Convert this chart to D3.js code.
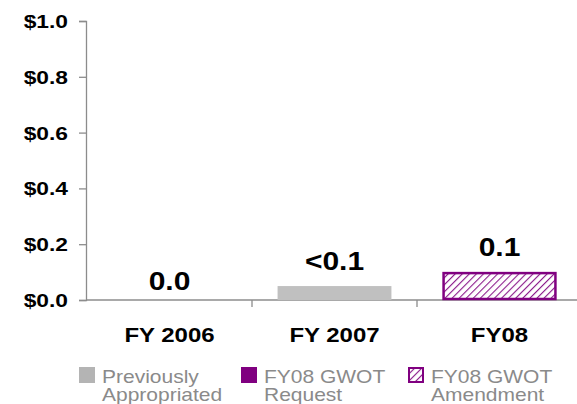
<!doctype html>
<html>
<head>
<meta charset="UTF-8">
<script src="https://d3js.org/d3.v7.min.js"></script>
<style>
  body { margin: 0; background: #fff; }
  text { font-family: Arial, "Liberation Sans", sans-serif; }
</style>
</head>
<body>
<svg id="chart"></svg>
<script>
// data
const categories = ["FY 2006", "FY 2007", "FY08"];
const previouslyAppropriated = [0, 0.05, 0];
const gwotRequest = [0, 0, 0];
const gwotAmendment = [0, 0, 0.1];
const valueLabels = ["0.0", "<0.1", "0.1"];
const yTicks = [0, 0.2, 0.4, 0.6, 0.8, 1.0];
const legendItems = [
  ["Previously", "Appropriated"],
  ["FY08 GWOT", "Request"],
  ["FY08 GWOT", "Amendment"]
];

(function () {
  const W = 577, H = 404;
  const SX = 1.2; // text in the original is drawn a bit wide
  const svg = d3.select("#chart").attr("width", W).attr("height", H);

  const defs = svg.append("defs");
  const pat = defs.append("pattern")
    .attr("id", "hatch")
    .attr("patternUnits", "userSpaceOnUse")
    .attr("width", 5).attr("height", 5)
    .attr("patternTransform", "rotate(45)");
  pat.append("rect").attr("width", 5).attr("height", 5).attr("fill", "#fff");
  pat.append("line").attr("x1", 0).attr("y1", 0).attr("x2", 0).attr("y2", 5)
    .attr("stroke", "#8b1a8b").attr("stroke-width", 2.2);

  const x = d3.scaleBand().domain(categories).range([87, 582]).paddingInner(0.31).paddingOuter(0.155);
  const y = d3.scaleLinear().domain([0, 1]).range([300, 21]);
  const axisLeft = 86;

  function wideText(g, tx, ty, size, bold, anchor, fill, str) {
    return g.append("text")
      .attr("transform", "translate(" + tx + "," + ty + ") scale(" + SX + ",1)")
      .attr("text-anchor", anchor)
      .attr("fill", fill)
      .style("font-size", size + "px")
      .style("font-weight", bold ? "bold" : "normal")
      .text(str);
  }

  // y axis
  const yAxis = svg.append("g")
    .attr("transform", "translate(" + axisLeft + ",0)")
    .call(d3.axisLeft(y).tickValues(yTicks).tickSize(7).tickFormat(""));
  yAxis.select(".domain").attr("stroke", "#8c8c8c").attr("stroke-width", 1.3);
  yAxis.selectAll(".tick line").attr("stroke", "#8c8c8c").attr("stroke-width", 1.3);
  yTicks.forEach(function (t) {
    wideText(svg, 68, y(t) + 7, 19, true, "end", "#000", "$" + d3.format(".1f")(t));
  });

  // x axis
  const xAxis = svg.append("g")
    .attr("transform", "translate(0," + y(0) + ")");
  xAxis.append("line").attr("x1", axisLeft).attr("x2", W).attr("y1", 0).attr("y2", 0)
    .attr("stroke", "#8c8c8c").attr("stroke-width", 1.3);
  const bounds = categories.slice(1).map(function (c) { return x(c) - x.step() * x.paddingInner() / 2; });
  xAxis.selectAll(".xtick").data(bounds).enter().append("line")
    .attr("x1", d => d).attr("x2", d => d).attr("y1", 0).attr("y2", 7)
    .attr("stroke", "#8c8c8c").attr("stroke-width", 1.3);
  categories.forEach(function (c) {
    wideText(svg, x(c) + x.bandwidth() / 2, 342, 20, true, "middle", "#000", c);
  });

  // bars
  const bw = x.bandwidth();
  svg.selectAll(".prev").data(categories).enter().append("rect")
    .attr("x", d => x(d)).attr("width", bw)
    .attr("y", (d, i) => y(previouslyAppropriated[i]))
    .attr("height", (d, i) => y(0) - y(previouslyAppropriated[i]))
    .attr("fill", "#c0c0c0");
  svg.selectAll(".req").data(categories).enter().append("rect")
    .attr("x", d => x(d)).attr("width", bw)
    .attr("y", (d, i) => y(previouslyAppropriated[i] + gwotRequest[i]))
    .attr("height", (d, i) => y(0) - y(gwotRequest[i]))
    .attr("fill", "#800080");
  svg.selectAll(".amend").data(categories.filter((d, i) => gwotAmendment[i] > 0)).enter().append("rect")
    .attr("x", d => x(d) + 1).attr("width", bw - 2)
    .attr("y", d => y(gwotAmendment[categories.indexOf(d)]) + 1)
    .attr("height", d => y(0) - y(gwotAmendment[categories.indexOf(d)]) - 2)
    .attr("fill", "url(#hatch)")
    .attr("stroke", "#800080").attr("stroke-width", 2.5);

  // value labels
  categories.forEach(function (c, i) {
    const total = previouslyAppropriated[i] + gwotRequest[i] + gwotAmendment[i];
    wideText(svg, x(c) + bw / 2, y(total) - (total > 0 ? 16 : 10), 25, true, "middle", "#000", valueLabels[i]);
  });

  // legend
  const legX = [79, 241, 408];
  legendItems.forEach(function (d, i) {
    const g = svg.append("g").attr("transform", "translate(" + legX[i] + ",367)");
    if (i === 2) {
      g.append("rect").attr("x", 1).attr("y", 1).attr("width", 14).attr("height", 14)
        .attr("fill", "url(#hatch)").attr("stroke", "#800080").attr("stroke-width", 2);
    } else {
      g.append("rect").attr("width", 16).attr("height", 16)
        .attr("fill", i === 0 ? "#b4b4b4" : "#800080");
    }
    wideText(g, 23, 16, 17.5, false, "start", "#8a8a8a", d[0]);
    wideText(g, 23, 34, 17.5, false, "start", "#8a8a8a", d[1]);
  });
})();
</script>
</body>
</html>
